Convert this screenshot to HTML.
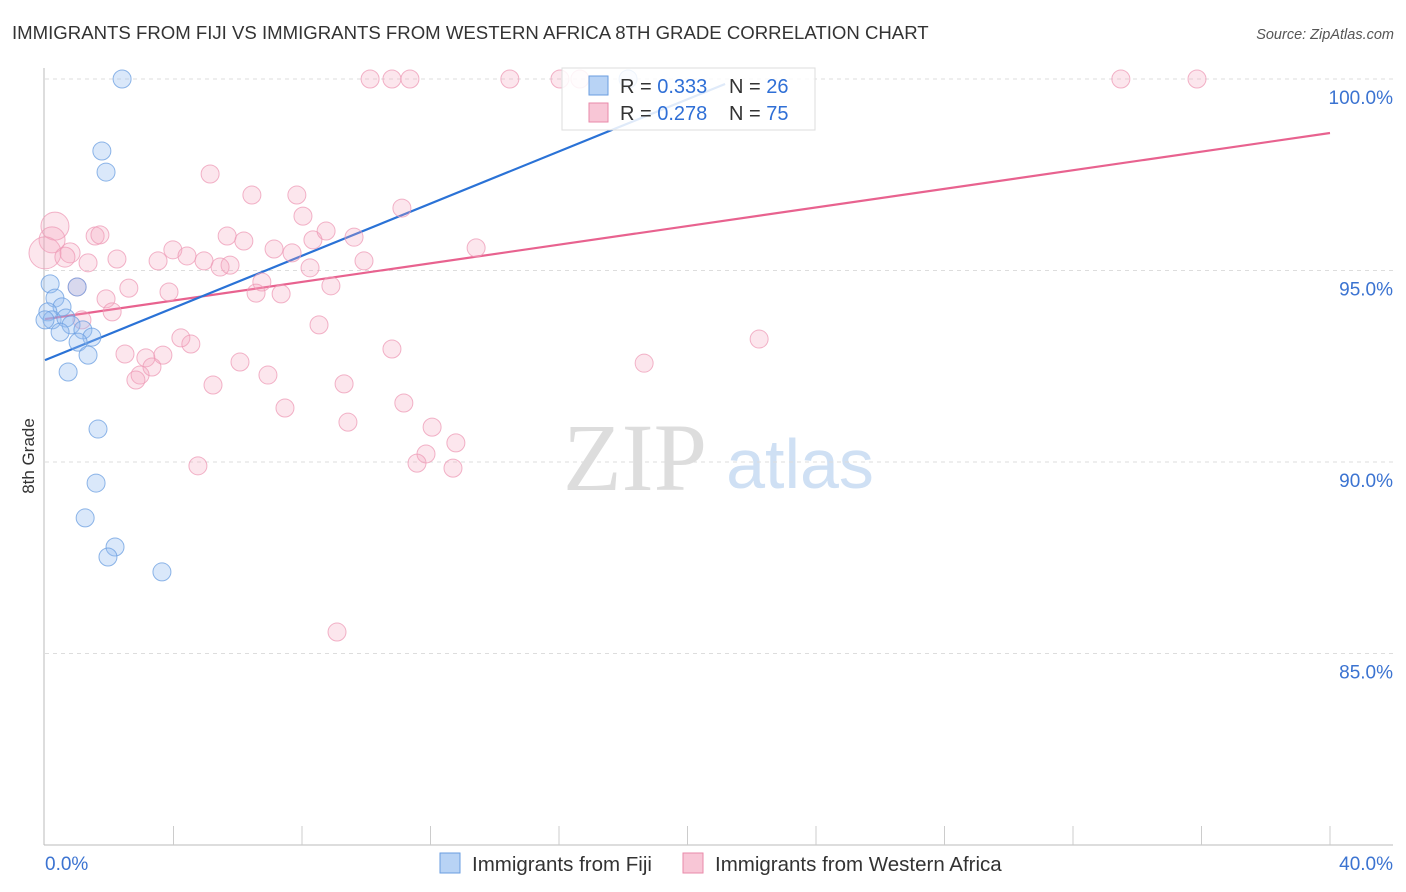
<!DOCTYPE html>
<html><head><meta charset="utf-8"><style>
body{margin:0;background:#fff;font-family:"Liberation Sans",sans-serif;}
svg{display:block}
</style></head><body>
<svg id="chart" width="1406" height="892">
<text x="12" y="39" font-size="18.6" fill="#333">IMMIGRANTS FROM FIJI VS IMMIGRANTS FROM WESTERN AFRICA 8TH GRADE CORRELATION CHART</text>
<text x="1394" y="39" font-size="14.5" fill="#555" font-style="italic" text-anchor="end">Source: ZipAtlas.com</text>
<text x="34" y="456" font-size="17" fill="#333" text-anchor="middle" transform="rotate(-90 34 456)">8th Grade</text>
<g>
<text x="635" y="490" font-size="96" fill="#ddd" font-family="Liberation Serif,serif" text-anchor="middle">ZIP</text>
<text x="800" y="488" font-size="70" fill="#cfe0f4" text-anchor="middle">atlas</text>
</g>
<g id="grid"></g><g id="axes"></g><g id="lines"></g><g id="pts"></g>
<g>
<rect x="562" y="68" width="253" height="62" fill="#fff" fill-opacity="0.85" stroke="#ddd"/>
<rect x="589" y="76" width="19" height="19" fill="#b8d3f5" stroke="#6a9ee0"/>
<text x="620" y="93" font-size="20" fill="#333">R = <tspan fill="#2f6fd6">0.333</tspan></text>
<text x="729" y="93" font-size="20" fill="#333">N = <tspan fill="#2f6fd6">26</tspan></text>
<rect x="589" y="103" width="19" height="19" fill="#f8c6d6" stroke="#e98aa9"/>
<text x="620" y="120" font-size="20" fill="#333">R = <tspan fill="#2f6fd6">0.278</tspan></text>
<text x="729" y="120" font-size="20" fill="#333">N = <tspan fill="#2f6fd6">75</tspan></text>
</g>
<g>
<rect x="440" y="853" width="20" height="20" fill="#b8d3f5" stroke="#6a9ee0"/>
<text x="472" y="871" font-size="20.5" fill="#333">Immigrants from Fiji</text>
<rect x="683" y="853" width="20" height="20" fill="#f8c6d6" stroke="#e98aa9"/>
<text x="715" y="871" font-size="20.5" fill="#333">Immigrants from Western Africa</text>
</g>
</svg>
<script>
const yTicks=[100,95,90,85];
const yTickLabels=["100.0%","95.0%","90.0%","85.0%"];
const xTickLabels=["0.0%","40.0%"];
const fijiX=[2.40,1.77,1.90,0.16,0.31,0.53,0.09,0.22,0.65,0.81,0.47,1.18,1.46,1.03,1.34,0.72,1.65,1.59,1.25,2.18,1.96,3.64,1.00,18.15,0];
const fijiY=[100,98.12,97.57,94.65,94.28,94.05,93.92,93.71,93.76,93.58,93.39,93.45,93.26,93.13,92.79,92.35,90.86,89.45,88.54,87.78,87.52,87.13,94.57,100,93.71];
const waX=[10.12,10.80,11.36,14.47,16.03,16.65,33.49,35.86,0.31,0.22,0,0.78,0.62,1.56,1.71,1.34,2.24,5.14,6.44,7.84,8.03,11.11,5.67,6.19,7.13,7.69,8.34,8.75,9.62,3.98,4.42,3.52,4.95,5.76,5.45,8.25,9.93,13.42,1.00,1.90,2.61,3.86,2.09,1.15,6.75,6.57,7.35,8.90,8.53,4.23,4.54,2.49,3.14,3.67,3.33,2.96,2.83,6.07,6.94,5.23,9.31,10.80,7.47,9.43,11.17,12.05,12.79,11.86,11.58,12.70,4.76,18.65,22.23,9.09];
const waY=[100,100,100,100,100,100,100,100,96.16,95.80,95.46,95.46,95.35,95.90,95.93,95.20,95.30,97.52,96.97,96.97,96.42,96.63,95.90,95.77,95.56,95.46,95.80,96.03,95.87,95.54,95.38,95.25,95.25,95.14,95.09,95.07,95.25,95.59,94.57,94.26,94.54,94.44,93.92,93.71,94.70,94.41,94.39,94.60,93.58,93.24,93.08,92.82,92.72,92.79,92.48,92.27,92.14,92.61,92.27,92.01,92.04,92.95,91.41,91.04,91.54,90.91,90.50,90.21,89.97,89.84,89.90,92.58,93.21,85.56];
const waR=[9,9,9,9,9,9,9,9,14,13,16,10,10,9,9,9,9,9,9,9,9,9,9,9,9,9,9,9,9,9,9,9,9,9,9,9,9,9,9,9,9,9,9,9,9,9,9,9,9,9,9,9,9,9,9,9,9,9,9,9,9,9,9,9,9,9,9,9,9,9,9,9,9,9];
const fijiLine=[[0,92.66],[21.17,99.87]];
const waLine=[[0,93.73],[40,98.59]];
const NS="http://www.w3.org/2000/svg";
const X=v=>45+v*32.125, Y=v=>79+(100-v)*38.3;
function mk(t,a,p){const e=document.createElementNS(NS,t);for(const k in a)e.setAttribute(k,a[k]);document.getElementById(p).appendChild(e);return e;}
yTicks.forEach((t,i)=>{
 const g=mk('line',{x1:45,x2:1393,y1:Y(t),y2:Y(t),stroke:'#ddd','stroke-dasharray':'4,4'},'grid');
 
 
 const l=mk('text',{x:1393,y:Y(t)+25,'font-size':19,fill:'#3b73d1','text-anchor':'end'},'grid');l.textContent=yTickLabels[i];
 
 
});
mk('line',{x1:44,x2:44,y1:68,y2:845,stroke:'#bbb'},'axes');
mk('line',{x1:44,x2:1393,y1:845,y2:845,stroke:'#bbb'},'axes');
for(let i=1;i<=10;i++){const t=mk('line',{x1:X(i*4),x2:X(i*4),y1:826,y2:845,stroke:'#ccc'},'axes');}
[[X(0),'start'],[1393,'end']].forEach((p,i)=>{const l=mk('text',{x:p[0],y:870,'font-size':19,fill:'#3b73d1','text-anchor':p[1]},'axes');l.textContent=xTickLabels[i];
 
 });
function pts(xs,ys,rs,fill,stroke,name){xs.forEach((x,i)=>{const c=mk('circle',{cx:X(x),cy:Y(ys[i]),r:rs?rs[i]:9,fill:fill,stroke:stroke,'stroke-width':1,'stroke-opacity':0.75},'pts');
 
 });}
pts(waX,waY,waR,'rgba(244,165,192,0.28)','#ee9ab5','point-western-africa');
pts(fijiX,fijiY,null,'rgba(150,190,240,0.35)','#6a9ee0','point-fiji');
const l1=mk('line',{x1:X(waLine[0][0]),y1:Y(waLine[0][1]),x2:X(waLine[1][0]),y2:Y(waLine[1][1]),stroke:'#e8628f','stroke-width':2.2},'lines');


const l2=mk('line',{x1:X(fijiLine[0][0]),y1:Y(fijiLine[0][1]),x2:X(fijiLine[1][0]),y2:Y(fijiLine[1][1]),stroke:'#2a72d6','stroke-width':2.2},'lines');


</script>
</body></html>
